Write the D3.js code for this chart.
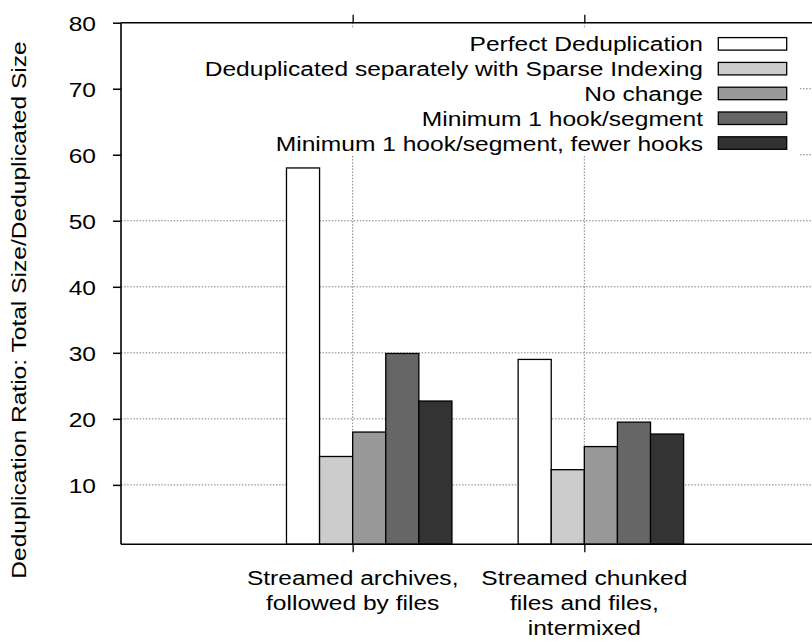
<!DOCTYPE html>
<html>
<head>
<meta charset="utf-8">
<script src="https://cdn.jsdelivr.net/npm/d3@7"></script>
<style>
  html, body { margin: 0; padding: 0; background: #fff; }
  svg { display: block; }
  text { font-family: "Liberation Sans", Arial, Helvetica, sans-serif; font-size: 21px; fill: #000; }
</style>
</head>
<body>
<svg id="chart" width="812" height="642"></svg>
<script>
// Workload groups along the x axis (each label split into lines)
const categories = [
  ["Streamed archives,", "followed by files"],
  ["Streamed chunked", "files and files,", "intermixed"]
];

// One series per deduplication strategy
const seriesNames = [
  "Perfect Deduplication",
  "Deduplicated separately with Sparse Indexing",
  "No change",
  "Minimum 1 hook/segment",
  "Minimum 1 hook/segment, fewer hooks"
];

// Deduplication ratio per series, one value per workload group
const perfectDedup     = [58.0, 29.0];
const separateSparse   = [14.3, 12.3];
const noChange         = [18.0, 15.8];
const minOneHook       = [29.9, 19.5];
const minOneHookFewer  = [22.7, 17.7];

const seriesValues = [perfectDedup, separateSparse, noChange, minOneHook, minOneHookFewer];
const seriesFills = ["#ffffff", "#cccccc", "#999999", "#666666", "#333333"];

const yTicks = [10, 20, 30, 40, 50, 60, 70, 80];

const svg = d3.select("#chart");
const textScaleX = 1.17;

// Histogram coordinates: each cluster is 7 bar-widths (5 bars + gap of 2)
const x = d3.scaleLinear().domain([-1, 2]).range([121, 816]);
const y = d3.scaleLinear().domain([1, 80]).range([544.3, 22.7]);
const barUnit = 1 / 7;

const plotLeft = x(-1), plotRight = x(2), plotTop = y(80), plotBottom = y(1);

// Grid lines
const grid = svg.append("g").attr("stroke", "#808080").attr("stroke-width", 1)
  .attr("stroke-dasharray", "1.5,1.6");
grid.selectAll("line.h").data(yTicks.filter(v => v < 80)).join("line")
  .attr("class", "h")
  .attr("x1", plotLeft).attr("x2", plotRight)
  .attr("y1", d => y(d)).attr("y2", d => y(d));
grid.selectAll("line.v").data(categories.map((c, i) => i)).join("line")
  .attr("class", "v")
  .attr("x1", d => x(d)).attr("x2", d => x(d))
  .attr("y1", plotTop).attr("y2", plotBottom);

// Opaque key background
const keyRowY = i => 43.8 + i * 24.8;
svg.append("rect")
  .attr("x", plotLeft + 1).attr("y", 28)
  .attr("width", 800 - plotLeft - 1).attr("height", 128)
  .attr("fill", "#fff");

// Bars
const bars = svg.append("g");
seriesValues.forEach((vals, j) => {
  bars.selectAll(null).data(vals).join("rect")
    .attr("x", (d, i) => x(i + (j - 2) * barUnit))
    .attr("width", x(barUnit) - x(0))
    .attr("y", d => y(d))
    .attr("height", d => y(1) - y(d))
    .attr("fill", seriesFills[j])
    .attr("stroke", "#000")
    .attr("stroke-width", 1.3);
});

// Axes
const yAxis = d3.axisLeft(y).tickValues(yTicks).tickSize(8).tickPadding(17).tickFormat(d3.format("d"));
const yg = svg.append("g").attr("transform", `translate(${plotLeft},0)`).call(yAxis);
yg.select(".domain").remove();
yg.selectAll(".tick line").attr("stroke", "#000").attr("stroke-width", 1.5);
yg.selectAll(".tick text")
  .attr("font-size", null).attr("font-family", null)
  .each(function () {
    const t = d3.select(this);
    const tx = +t.attr("x");
    t.attr("x", 0).attr("dy", "0.36em")
     .attr("transform", `translate(${tx},0) scale(${textScaleX},1)`);
  });

const xAxisBottom = d3.axisBottom(x).tickValues([0, 1]).tickSize(8).tickFormat("");
const xgb = svg.append("g").attr("transform", `translate(0,${plotBottom})`).call(xAxisBottom);
xgb.select(".domain").remove();
xgb.selectAll(".tick line").attr("stroke", "#000").attr("stroke-width", 1.3);

const xAxisTop = d3.axisTop(x).tickValues([0, 1]).tickSize(8).tickFormat("");
const xgt = svg.append("g").attr("transform", `translate(0,${plotTop})`).call(xAxisTop);
xgt.select(".domain").remove();
xgt.selectAll(".tick line").attr("stroke", "#000").attr("stroke-width", 1.3);

// Frame (left, top, bottom; right edge lies outside the view)
const frame = svg.append("g").attr("stroke", "#000").attr("stroke-width", 1.6).attr("fill", "none");
frame.append("line").attr("x1", plotLeft).attr("x2", plotLeft).attr("y1", plotTop).attr("y2", plotBottom);
frame.append("line").attr("x1", plotLeft).attr("x2", plotRight).attr("y1", plotTop).attr("y2", plotTop);
frame.append("line").attr("x1", plotLeft).attr("x2", plotRight).attr("y1", plotBottom).attr("y2", plotBottom);

// Category labels
categories.forEach((lines, i) => {
  lines.forEach((line, k) => {
    svg.append("text")
      .attr("text-anchor", "middle")
      .attr("transform", `translate(${x(i)},${585 + k * 25}) scale(${textScaleX},1)`)
      .text(line);
  });
});

// Y axis title
svg.append("text")
  .attr("text-anchor", "middle")
  .attr("transform", `translate(26,310) rotate(-90) scale(${textScaleX},1)`)
  .text("Deduplication Ratio: Total Size/Deduplicated Size");

// Key
const key = svg.append("g");
seriesNames.forEach((name, i) => {
  key.append("text")
    .attr("text-anchor", "end")
    .attr("transform", `translate(703,${keyRowY(i) + 7.5}) scale(${textScaleX},1)`)
    .text(name);
  key.append("rect")
    .attr("x", 718.3).attr("y", keyRowY(i) - 6.2)
    .attr("width", 68.4).attr("height", 12.5)
    .attr("fill", seriesFills[i])
    .attr("stroke", "#000").attr("stroke-width", 1.3);
});
</script>
</body>
</html>
